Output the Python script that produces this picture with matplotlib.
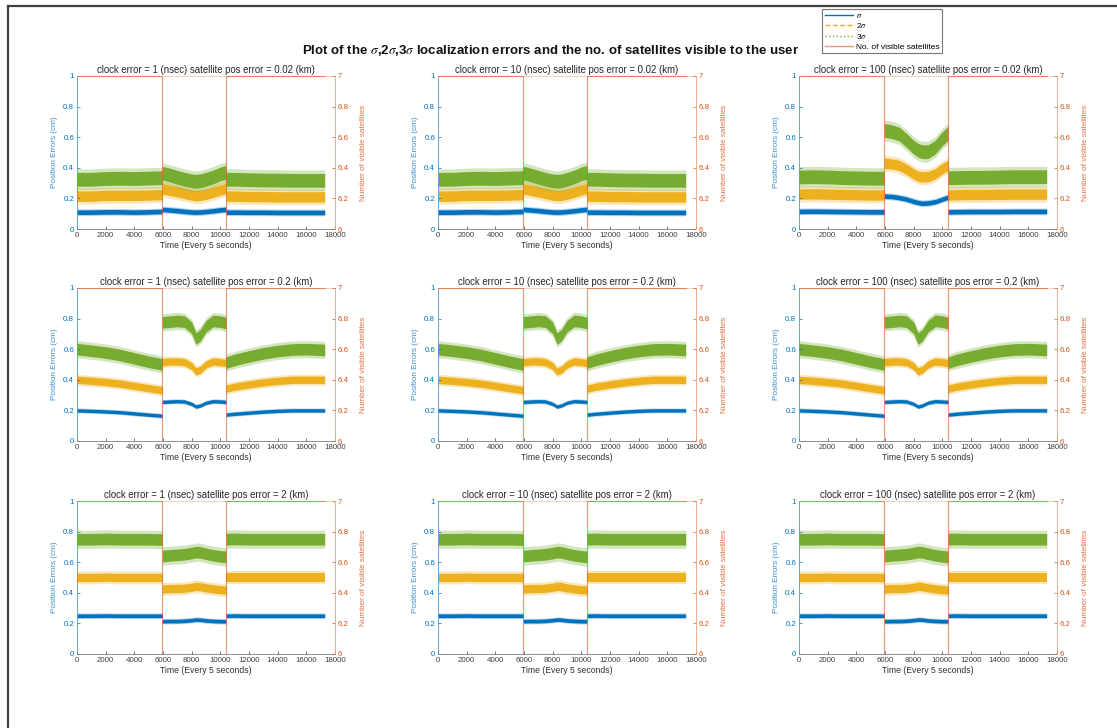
import matplotlib
matplotlib.use('Agg')
import matplotlib.pyplot as plt
from matplotlib.lines import Line2D
import numpy as np

plt.rcParams['font.family'] = ['Liberation Sans', 'DejaVu Sans']
plt.rcParams['mathtext.fontset'] = 'stix'

# ---------------- data ----------------
clock_errors = ['1', '10', '100']
pos_errors = ['0.02', '0.2', '2']
x_ticks = [0, 2000, 4000, 6000, 8000, 10000, 12000, 14000, 16000, 18000]
left_ticks = [0, 0.2, 0.4, 0.6, 0.8, 1]
left_tick_labels = ['0', '0.2', '0.4', '0.6', '0.8', '1']
right_ticks = [6, 6.2, 6.4, 6.6, 6.8, 7]
right_tick_labels = ['6', '6.2', '6.4', '6.6', '6.8', '7']

# time knots of the three visibility segments
seg1_x = [0, 1000, 2000, 3000, 4000, 5000, 5950]
seg2_x = [5950, 6500, 7000, 7500, 8000, 8300, 8600, 9000, 9500, 10000, 10400]
seg3_x = [10400, 11000, 12000, 13000, 14000, 15000, 16000, 17280]
seg_x = [seg1_x, seg2_x, seg3_x]

# number of visible satellites (step)
sat_x = [0, 5950, 5950, 10400, 10400, 17280]
sat_y = [7, 7, 6, 6, 7, 7]

# profile: pos error 0.02 km, clock 1 and 10 ns  (centre of noisy band per segment)
r1_low_s1 = [[0.110, 0.110, 0.112, 0.112, 0.110, 0.112, 0.115],
             [0.128, 0.124, 0.120, 0.115, 0.111, 0.110, 0.111, 0.114, 0.119, 0.125, 0.128],
             [0.110, 0.110, 0.109, 0.109, 0.108, 0.108, 0.108, 0.108]]
r1_low_s2 = [[0.215, 0.215, 0.220, 0.220, 0.220, 0.222, 0.225],
             [0.262, 0.252, 0.243, 0.232, 0.222, 0.218, 0.220, 0.227, 0.240, 0.255, 0.265],
             [0.215, 0.215, 0.212, 0.212, 0.210, 0.210, 0.210, 0.210]]
r1_low_s3 = [[0.325, 0.325, 0.330, 0.332, 0.330, 0.333, 0.335],
             [0.365, 0.352, 0.338, 0.325, 0.315, 0.312, 0.315, 0.325, 0.340, 0.360, 0.370],
             [0.325, 0.325, 0.322, 0.320, 0.320, 0.318, 0.318, 0.318]]
# profile: pos error 0.02 km, clock 100 ns
r1_high_s1 = [[0.115, 0.116, 0.115, 0.114, 0.113, 0.112, 0.112],
              [0.215, 0.212, 0.205, 0.195, 0.180, 0.173, 0.168, 0.170, 0.178, 0.195, 0.208],
              [0.112, 0.113, 0.114, 0.114, 0.114, 0.115, 0.115, 0.115]]
r1_high_s2 = [[0.228, 0.230, 0.228, 0.226, 0.224, 0.222, 0.222],
              [0.430, 0.425, 0.415, 0.390, 0.360, 0.345, 0.340, 0.342, 0.360, 0.395, 0.415],
              [0.222, 0.224, 0.226, 0.226, 0.227, 0.228, 0.228, 0.228]]
r1_high_s3 = [[0.340, 0.342, 0.340, 0.336, 0.334, 0.332, 0.332],
              [0.645, 0.635, 0.620, 0.580, 0.535, 0.515, 0.505, 0.505, 0.535, 0.590, 0.625],
              [0.335, 0.336, 0.338, 0.338, 0.340, 0.342, 0.342, 0.342]]
# profile: pos error 0.2 km
r2_s1 = [[0.200, 0.197, 0.193, 0.188, 0.180, 0.172, 0.165],
         [0.255, 0.258, 0.260, 0.258, 0.242, 0.225, 0.232, 0.250, 0.260, 0.258, 0.255],
         [0.172, 0.178, 0.185, 0.192, 0.197, 0.200, 0.200, 0.200]]
r2_s2 = [[0.400, 0.393, 0.385, 0.375, 0.360, 0.345, 0.332],
         [0.515, 0.520, 0.520, 0.515, 0.490, 0.455, 0.465, 0.500, 0.520, 0.515, 0.510],
         [0.342, 0.355, 0.370, 0.383, 0.393, 0.400, 0.400, 0.400]]
r2_s3 = [[0.600, 0.590, 0.578, 0.562, 0.540, 0.518, 0.500],
         [0.775, 0.780, 0.785, 0.780, 0.740, 0.670, 0.690, 0.750, 0.785, 0.780, 0.770],
         [0.512, 0.530, 0.553, 0.573, 0.588, 0.598, 0.600, 0.595]]
# profile: pos error 2 km
r3_s1 = [[0.250, 0.250, 0.251, 0.250, 0.250, 0.250, 0.250],
         [0.214, 0.215, 0.215, 0.217, 0.221, 0.225, 0.224, 0.219, 0.216, 0.214, 0.214],
         [0.250, 0.251, 0.250, 0.250, 0.250, 0.250, 0.250, 0.250]]
r3_s2 = [[0.500, 0.500, 0.502, 0.500, 0.500, 0.500, 0.500],
         [0.425, 0.428, 0.428, 0.430, 0.436, 0.442, 0.440, 0.432, 0.426, 0.420, 0.418],
         [0.500, 0.500, 0.500, 0.500, 0.500, 0.500, 0.500, 0.500]]
r3_s3 = [[0.750, 0.750, 0.752, 0.750, 0.750, 0.750, 0.748],
         [0.640, 0.645, 0.648, 0.652, 0.660, 0.666, 0.664, 0.655, 0.645, 0.638, 0.635],
         [0.750, 0.752, 0.750, 0.750, 0.750, 0.750, 0.750, 0.750]]

# band half widths (core, spikes) per profile for sigma, 2sigma, 3sigma
r1_width = [(0.015, 0.022), (0.034, 0.052), (0.045, 0.068)]
r2_width = [(0.011, 0.016), (0.024, 0.036), (0.038, 0.056)]
r3_width = [(0.012, 0.018), (0.027, 0.042), (0.038, 0.060)]

profiles = {
    'r1_low': ([r1_low_s1, r1_low_s2, r1_low_s3], r1_width),
    'r1_high': ([r1_high_s1, r1_high_s2, r1_high_s3], r1_width),
    'r2': ([r2_s1, r2_s2, r2_s3], r2_width),
    'r3': ([r3_s1, r3_s2, r3_s3], r3_width),
}
panel_profile = [['r1_low', 'r1_low', 'r1_high'],
                 ['r2', 'r2', 'r2'],
                 ['r3', 'r3', 'r3']]

# ---------------- style ----------------
C_BLUE = '#0072BD'
C_YEL = '#EDB120'
C_GRN = '#77AC30'
C_RED = '#D95319'
series_colors = [C_BLUE, C_YEL, C_GRN]

W, H = 1117, 728
fig = plt.figure(figsize=(W / 100, H / 100), dpi=100)

col_left = [77, 438, 799]
col_w = 258
row_top = [76, 288, 501]
row_h = 153

TICK_FS = 5.7
LAB_FS = 6.2

for r in range(3):
    for c in range(3):
        l, t = col_left[c], row_top[r]
        ax = fig.add_axes([l / W, 1 - (t + row_h) / H, col_w / W, row_h / H])
        series, widths = profiles[panel_profile[r][c]]
        for s, col in enumerate(series_colors):
            core, spike = widths[s]
            for xs, cs in zip(seg_x, series[s]):
                xs = np.array(xs, float)
                cs = np.array(cs, float)
                ax.fill_between(xs, cs - spike, cs + spike, color=col, alpha=0.3, lw=0)
                ax.fill_between(xs, cs - core, cs + core, color=col, alpha=1.0, lw=0)
        ax.set_xlim(0, 18000)
        ax.set_ylim(0, 1)
        ax.set_xticks(x_ticks)
        ax.set_xticklabels([str(v) for v in x_ticks])
        ax.set_yticks(left_ticks)
        ax.set_yticklabels(left_tick_labels)
        ax.tick_params(axis='both', direction='in', length=2, width=0.5,
                       labelsize=TICK_FS, pad=2)
        ax.tick_params(axis='x', colors='#404040')
        ax.tick_params(axis='y', colors=C_BLUE)
        ax.spines['left'].set_color('#4A9BD6')
        ax.spines['bottom'].set_color('#808080')
        ax.spines['top'].set_color('#F2C9B5')
        ax.spines['right'].set_visible(False)
        for sp in ax.spines.values():
            sp.set_linewidth(0.6)
        ax.set_xlabel('Time (Every 5 seconds)', fontsize=LAB_FS, color='#303030', labelpad=1.5)
        ax.set_ylabel('Position Errors (cm)', fontsize=5.9, color='#3A8FD0', labelpad=4)
        ax.set_title('clock error = %s (nsec) satellite pos error = %s (km)'
                     % (clock_errors[c], pos_errors[r]), fontsize=6.9, color='#262626', pad=2.5)

        ax2 = ax.twinx()
        ax2.plot(sat_x, sat_y, color=C_RED, lw=0.8, alpha=0.6)
        ax2.set_ylim(6, 7)
        ax2.set_yticks(right_ticks)
        ax2.set_yticklabels(right_tick_labels)
        ax2.tick_params(axis='y', direction='in', length=2, width=0.5,
                        labelsize=TICK_FS, pad=2, colors=C_RED)
        for name, sp in ax2.spines.items():
            sp.set_visible(name == 'right')
        ax2.spines['right'].set_color('#E8A080')
        ax2.spines['right'].set_linewidth(0.6)
        ax2.set_ylabel('Number of visible satellites', fontsize=5.9, color='#E07040', labelpad=8)

fig.text(551 / W, 1 - 51 / H,
         r'Plot of the $\sigma$,2$\sigma$,3$\sigma$ localization errors and the no. of satellites visible to the user',
         ha='center', va='center', fontsize=9.5, fontweight='bold', color='#111111')

handles = [Line2D([], [], color=C_BLUE, lw=1.0, ls='-'),
           Line2D([], [], color=C_YEL, lw=1.0, ls='--'),
           Line2D([], [], color=C_GRN, lw=1.0, ls=':'),
           Line2D([], [], color=C_RED, lw=1.0, ls='-', alpha=0.6)]
labels = [r'$\sigma$', r'2$\sigma$', r'3$\sigma$', 'No. of visible satellites']
leg = fig.legend(handles, labels, loc='upper left', bbox_to_anchor=(822 / W, 1 - 9 / H),
                 fontsize=6, handlelength=3.4, handletextpad=0.4, labelspacing=0.22,
                 borderpad=0.3, borderaxespad=0, fancybox=False, frameon=True)
leg.get_frame().set_edgecolor('#555555')
leg.get_frame().set_linewidth(0.8)

# outer frame of the screenshot
fig.add_artist(Line2D([8 / W, 1.0], [1 - 6 / H, 1 - 6 / H], transform=fig.transFigure,
                      color='#404040', lw=1.6))
fig.add_artist(Line2D([8 / W, 8 / W], [0, 1 - 6 / H], transform=fig.transFigure,
                      color='#404040', lw=1.6))

fig.savefig('out.png', dpi=100)
